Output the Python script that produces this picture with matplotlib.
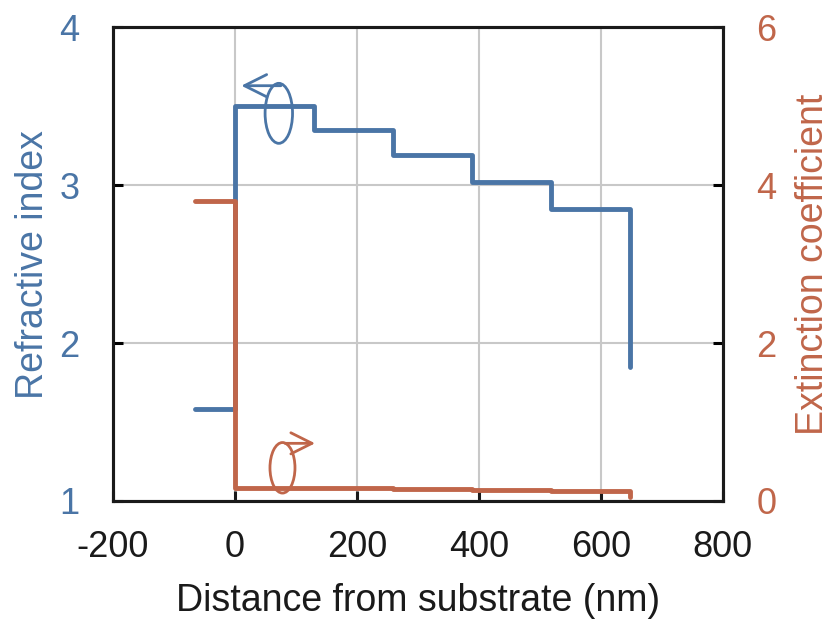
import numpy as np
import matplotlib
matplotlib.use("Agg")
import matplotlib.pyplot as plt
from matplotlib.patches import Ellipse

plt.rcParams['font.family'] = ['Liberation Sans', 'DejaVu Sans']
plt.rcParams['axes.unicode_minus'] = False

# Layer boundaries (nm) and values
edges_n = [-65, 0, 130, 259, 389, 518, 648]
n_levels = [1.58, 3.50, 3.35, 3.19, 3.02, 2.85]
n_end = 1.85

edges_k = [-65, 0, 130, 259, 389, 518, 648]
k_levels = [3.80, 0.17, 0.16, 0.15, 0.14, 0.13]
k_end = 0.05

blue = '#4a75a6'
orange = '#c0664a'


def step_xy(edges, levels, end):
    xs, ys = [], []
    for i, v in enumerate(levels):
        xs += [edges[i], edges[i + 1]]
        ys += [v, v]
    xs.append(edges[-1])
    ys.append(end)
    return xs, ys


fig, ax = plt.subplots(figsize=(8.3, 6.2), dpi=100)
fig.subplots_adjust(left=0.136, right=0.871, bottom=0.192, top=0.956)
ax2 = ax.twinx()

ax.set_xlim(-200, 800)
ax.set_ylim(1, 4)
ax2.set_ylim(0, 6)
ax.set_xticks(range(-200, 801, 200))
ax.set_yticks([1, 2, 3, 4])
ax2.set_yticks([0, 2, 4, 6])

ax.grid(True, color='#c8c8c8', lw=1.5)
ax.set_axisbelow(True)

x, y = step_xy(edges_n, n_levels, n_end)
ax.plot(x, y, color=blue, lw=3.5, solid_capstyle='round', zorder=3)
x, y = step_xy(edges_k, k_levels, k_end)
ax2.plot(x, y, color=orange, lw=3.5, solid_capstyle='round', zorder=3)

# curly arrows showing which axis each curve belongs to
ax.add_patch(Ellipse((72, 3.455), 45, 0.38, fill=False, ec=blue, lw=2, zorder=4))
ax.annotate('', xy=(6, 3.63), xytext=(80, 3.63),
            arrowprops=dict(arrowstyle='->', color=blue, lw=2, mutation_scale=40))
ax.add_patch(Ellipse((78, 1.21), 41, 0.32, fill=False, ec=orange, lw=2, zorder=4))
ax.annotate('', xy=(136, 1.365), xytext=(78, 1.365),
            arrowprops=dict(arrowstyle='->', color=orange, lw=2, mutation_scale=38))

for a in (ax, ax2):
    for s in a.spines.values():
        s.set_linewidth(2.2)
        s.set_color('#1a1a1a')
ax.tick_params(axis='x', direction='in', length=7, width=2.2, labelsize=26,
               pad=21, colors='#1a1a1a')
ax.tick_params(axis='y', direction='in', length=7, width=2.2, labelsize=26,
               pad=24, labelcolor=blue)
ax2.tick_params(axis='y', direction='in', length=7, width=2.2, labelsize=26,
                pad=24, labelcolor=orange)

ax.set_xlabel('Distance from substrate (nm)', fontsize=27, color='#1a1a1a', labelpad=13)
ax.set_ylabel('Refractive index', fontsize=27, color=blue, labelpad=6)
ax2.set_ylabel('Extinction coefficient', fontsize=27, color=orange, labelpad=13)

fig.savefig('out.png', dpi=100)
